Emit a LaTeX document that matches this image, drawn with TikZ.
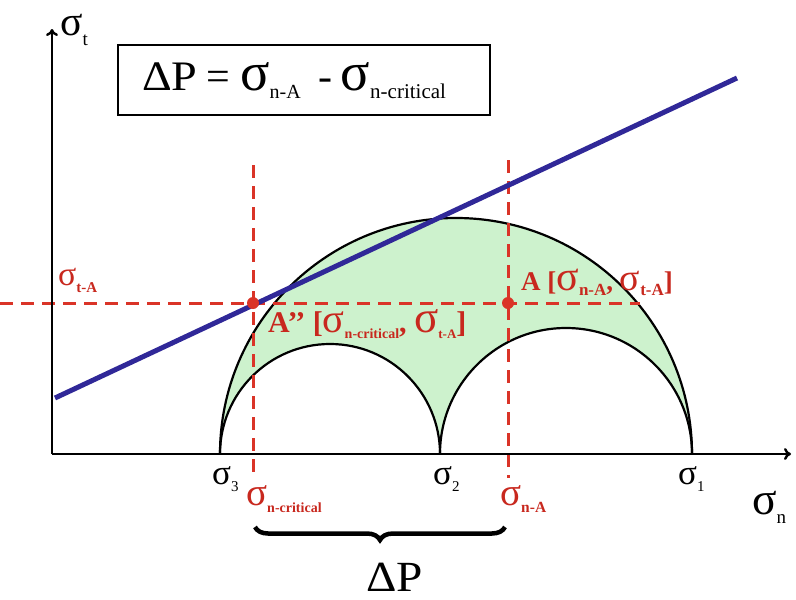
\documentclass[tikz,border=0pt]{standalone}
\usepackage{fontspec}
\setmainfont{Liberation Serif}
\usetikzlibrary{decorations.pathreplacing,arrows.meta}
\definecolor{fillgreen}{RGB}{205,242,205}
\definecolor{lineblue}{RGB}{48,40,152}
\definecolor{dred}{RGB}{218,52,40}
\definecolor{tred}{RGB}{200,40,30}
\newcommand\lowsub[3]{\raisebox{-#1pt}{\fontsize{#2}{#2}\selectfont #3}}
\newcommand\fs[1]{\fontsize{#1}{#1}\selectfont}
\newcommand\sg[1][1.3]{\scalebox{#1}{\mdseries σ}}
\begin{document}
\begin{tikzpicture}[x=1pt,y=-1pt,
  axis/.style={line width=2.4pt,-{To[length=7pt,width=12pt]}},
  circ/.style={line width=2.2pt,black},
  rdash/.style={dred,line width=3pt,dash pattern=on 13pt off 8pt},
  rdot/.style={circle,fill=dred,inner sep=0pt,minimum size=12pt},
  lbl/.style={inner sep=0pt,anchor=base west},
  rlbl/.style={lbl,text=tred,font=\bfseries}]
\useasboundingbox (0,0) rectangle (796,600);
% green region
\fill[fillgreen] (220,454) arc[start angle=180,end angle=360,radius=236]
  arc[start angle=360,end angle=180,radius=126]
  arc[start angle=360,end angle=180,radius=110] -- cycle;
% circles
\draw[circ] (220,454) arc[start angle=180,end angle=360,radius=236];
\draw[circ] (440,454) arc[start angle=180,end angle=360,radius=126];
\draw[circ] (220,454) arc[start angle=180,end angle=360,radius=110];
% dashed lines
\coordinate (hL) at (0,303); \coordinate (hR) at (640,303);
\coordinate (v1T) at (253,165); \coordinate (v1B) at (253,478);
\coordinate (v2T) at (508,160); \coordinate (v2B) at (508,478);
\draw[rdash] (hL) -- (hR);
\draw[rdash] (v1T) -- (v1B);
\draw[rdash] (v2T) -- (v2B);
% axes
\coordinate (O) at (52,454);
\coordinate (yT) at (52,29);
\coordinate (xR) at (791,454);
\draw[axis] (O) -- (yT);
\draw[axis] (O) -- (xR);
% blue line
\coordinate (bL) at (55,398); \coordinate (bR) at (737,78);
\draw[lineblue,line width=5pt] (bL) -- (bR);
% dots
\node[rdot] (App) at (253,303) {};
\node[rdot] (A) at (508,303) {};
% box
\node[draw,line width=2.4pt,minimum width=372pt,minimum height=70pt,inner sep=0pt] (box) at (304,80) {};
\node[lbl] (eq) at (142,90) {\fs{42}\scalebox{1.1}[1]{ΔP}\hspace{9pt}=\hspace{10pt}\sg\lowsub{8}{20}{n-A}\hspace{18pt}-\hspace{8pt}\sg\lowsub{8}{21}{n-critical}};
% axis labels
\node[lbl] (st) at (60,35) {\fs{32}\sg\lowsub{10}{19}{t}};
\node[lbl] (sn) at (752,514) {\fs{35}\sg\lowsub{9}{19}{n}};
\node[lbl] (s3) at (212,484) {\fs{27}\sg\lowsub{7}{15}{3}};
\node[lbl] (s2) at (433,484) {\fs{27}\sg\lowsub{7}{15}{2}};
\node[lbl] (s1) at (678,484) {\fs{27}\sg\lowsub{7}{15}{1}};
% red labels
\node[rlbl] (stA) at (58,285) {\fs{26}\sg\lowsub{7}{15}{t-A}};
\node[rlbl] (snc) at (246,505) {\fs{30}\sg\lowsub{7}{14}{n-critical}};
\node[rlbl] (snA) at (500,505) {\fs{30}\sg\lowsub{7}{15.5}{n-A}};
\node[rlbl] (Alab) at (521,290) {\fs{27}A [\sg[1.55]\lowsub{5}{17}{n-A}, \sg[1.4]\lowsub{5}{17}{t-A}]};
\node[rlbl] (Alab2) at (268,332) {\fs{30}A’’ [\sg[1.35]\lowsub{6}{14}{n-critical}, \sg[1.5]\lowsub{6}{13}{t-A}]};
% brace
\coordinate (brL) at (255,527); \coordinate (brR) at (505,527);
\draw[line width=4.5pt,decorate,decoration={brace,mirror,amplitude=13pt}] (brL) -- (brR);
\node[lbl] (dP) at (366,591) {\fs{43}\scalebox{1.1}[1]{ΔP}};
\end{tikzpicture}
\end{document}
